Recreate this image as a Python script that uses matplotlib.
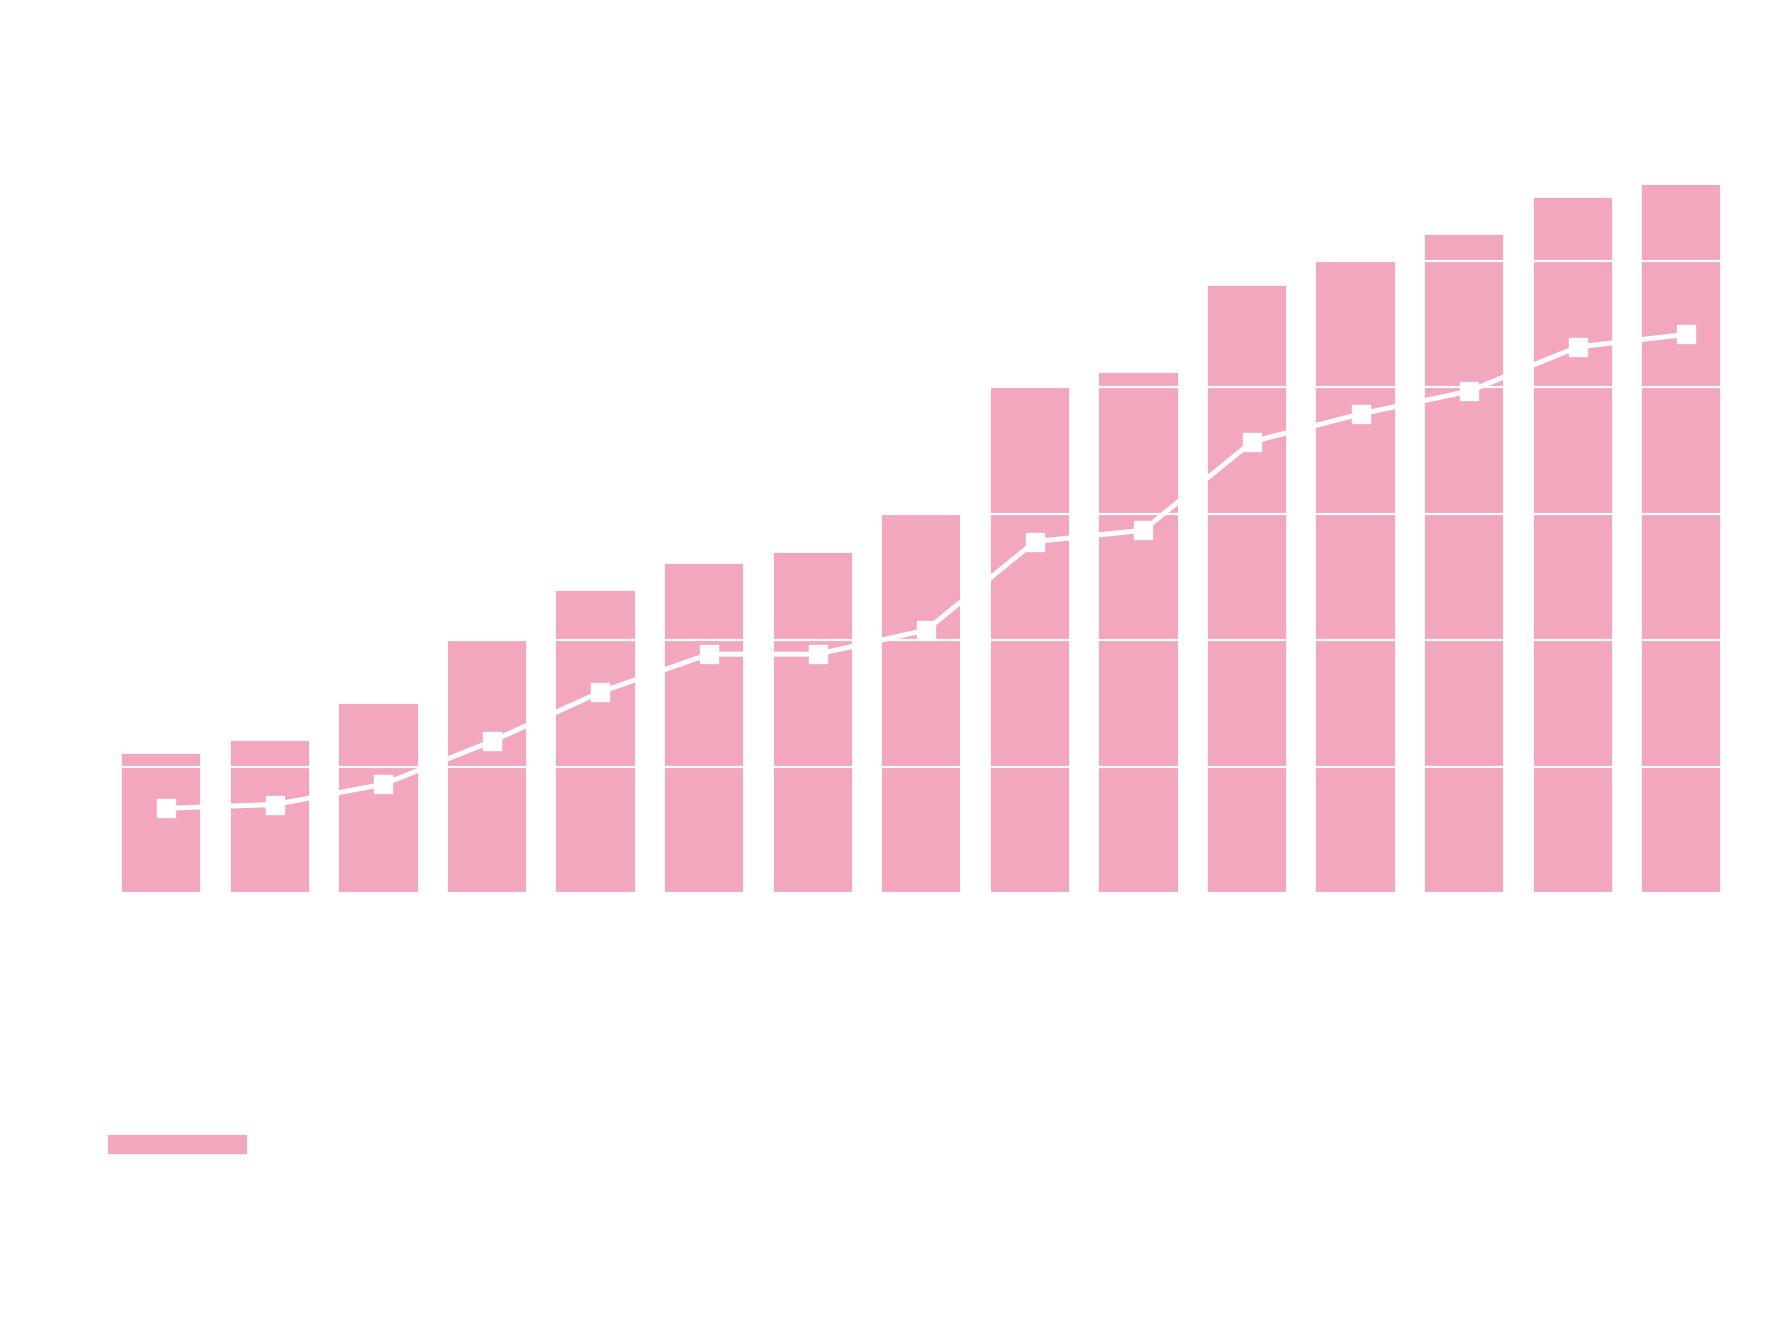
import numpy as np
import matplotlib
matplotlib.use('Agg')
import matplotlib.pyplot as plt

# values (gridline step = 10)
categories = [str(i) for i in range(1, 16)]
bar_values = [11.1, 12.1, 15.0, 20.0, 24.0, 26.1, 27.0, 30.0, 40.0, 41.2,
              48.1, 50.0, 52.1, 55.1, 56.1]
line_values = [6.7, 7.0, 8.6, 12.0, 15.9, 18.9, 18.9, 20.8, 27.8, 28.7,
               35.7, 37.9, 39.7, 43.2, 44.2]

bar_color = '#f2a7bc'

fig = plt.figure(figsize=(17.86, 13.41), dpi=100)
ax = fig.add_axes([95.6 / 1786, 1 - 893 / 1341, (1746 - 95.6) / 1786, 758.4 / 1341])

x = np.arange(len(categories))
ax.bar(x, bar_values, width=0.73, color=bar_color, edgecolor='white',
       linewidth=0.6, label='bars', zorder=1)
ax.plot(x + 0.05, line_values, color='white', lw=3.6, marker='s',
        markersize=13.5, label='line', zorder=3)

ax.set_xlim(-0.6, 14.6)
ax.set_ylim(0, 60)
ax.set_yticks(np.arange(0, 61, 10))
ax.set_xticks(x)
ax.set_xticklabels(categories)
ax.tick_params(colors='white', length=0)
ax.set_axisbelow(False)
ax.grid(axis='y', color='white', lw=1.6)
ax.grid(axis='x', visible=False)
for s in ax.spines.values():
    s.set_visible(False)

leg = fig.legend(handles=[ax.patches[0]], labels=['bars'], loc='upper left',
                 bbox_to_anchor=(107 / 1786, 1 - 1134 / 1341), frameon=False,
                 borderpad=0, borderaxespad=0, fontsize=16, handlelength=6.3,
                 handleheight=1.0)
for t in leg.get_texts():
    t.set_color('white')

fig.savefig('out.png', dpi=100, facecolor='white')
